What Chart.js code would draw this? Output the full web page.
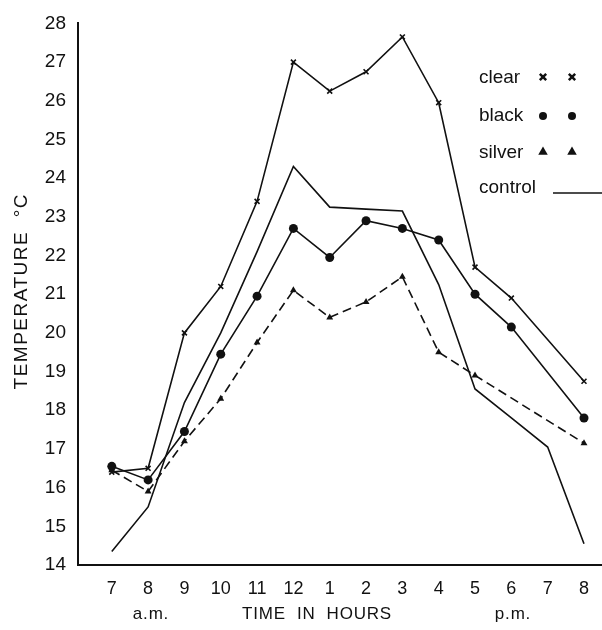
<!DOCTYPE html>
<html>
<head>
<meta charset="utf-8">
<style>
  html, body { margin: 0; padding: 0; background: #fff; }
  #wrap { width: 602px; height: 630px; position: relative; }
</style>
<script src="https://cdn.jsdelivr.net/npm/chart.js"></script>
</head>
<body>
<div id="wrap"><canvas id="tempChart" width="602" height="630"></canvas></div>
<script>
// hours of the day, 7 a.m. to 8 p.m.
const hourLabels = ["7", "8", "9", "10", "11", "12", "1", "2", "3", "4", "5", "6", "7", "8"];

// temperatures in °C (null = no reading plotted)
const clearTemps   = [16.4, 16.5, 20.0, 21.2, 23.4, 27.0, 26.25, 26.75, 27.65, 25.95, 21.7, 20.9, null, 18.75];
const blackTemps   = [16.55, 16.2, 17.45, 19.45, 20.95, 22.7, 21.95, 22.9, 22.7, 22.4, 21.0, 20.15, null, 17.8];
const silverTemps  = [16.45, 15.9, 17.2, 18.3, 19.75, 21.1, 20.4, 20.8, 21.45, 19.5, 18.9, null, null, 17.15];
const controlTemps = [14.35, 15.5, 18.2, 20.0, 22.1, 24.3, 23.25, 23.2, 23.15, 21.25, 18.55, 17.8, 17.05, 14.55];

const yTicks = { min: 14, max: 28, step: 1 };

const INK = "#111";
const FONT = "'Liberation Sans', Arial, sans-serif";

function toPoints(arr) {
  return arr.map((v, i) => ({ x: i, y: v }));
}

// legend, axis titles and captions, drawn on the canvas
const captions = {
  id: "captions",
  afterDraw(chart) {
    const ctx = chart.ctx;
    const area = chart.chartArea;
    ctx.save();
    ctx.fillStyle = INK;
    ctx.strokeStyle = INK;

    // y title
    ctx.save();
    ctx.font = "19px " + FONT;
    ctx.letterSpacing = "1.5px";
    ctx.textAlign = "center";
    ctx.textBaseline = "middle";
    ctx.translate(22, (area.top + area.bottom) / 2 - 3);
    ctx.rotate(-Math.PI / 2);
    ctx.fillText("TEMPERATURE  °C", 0, 0);
    ctx.restore();

    // x captions
    ctx.font = "17px " + FONT;
    ctx.letterSpacing = "0.8px";
    ctx.textBaseline = "alphabetic";
    ctx.textAlign = "center";
    ctx.fillText("a.m.", 151, 619);
    ctx.fillText("TIME  IN  HOURS", 317, 619);
    ctx.fillText("p.m.", 513, 619);

    // legend
    ctx.font = "19px " + FONT;
    ctx.letterSpacing = "0px";
    ctx.textAlign = "left";
    const rows = [
      { text: "clear", y: 83, style: "crossRot", r: 4.5, bw: 2.5, mid: 77 },
      { text: "black", y: 121, style: "circle", r: 4, bw: 0, mid: 116 },
      { text: "silver", y: 158, style: "triangle", r: 5.5, bw: 0, mid: 152 }
    ];
    rows.forEach(row => {
      ctx.fillText(row.text, 479, row.y);
      [543, 572].forEach(px => {
        ctx.lineWidth = row.bw;
        Chart.helpers.drawPoint(ctx, {
          pointStyle: row.style, radius: row.r, rotation: 0, borderWidth: row.bw
        }, px, row.mid);
      });
    });
    ctx.fillText("control", 479, 193);
    ctx.lineWidth = 1.5;
    ctx.beginPath();
    ctx.moveTo(553, 193);
    ctx.lineTo(602, 193);
    ctx.stroke();
    ctx.restore();
  }
};

const ctx = document.getElementById("tempChart").getContext("2d");
new Chart(ctx, {
  type: "line",
  data: {
    datasets: [
      {
        label: "clear",
        data: toPoints(clearTemps),
        borderColor: INK, backgroundColor: INK,
        borderWidth: 1.6,
        pointStyle: "crossRot", pointRadius: 3.5, pointBorderWidth: 1.6
      },
      {
        label: "black",
        data: toPoints(blackTemps),
        borderColor: INK, backgroundColor: INK,
        borderWidth: 1.6,
        pointStyle: "circle", pointRadius: 4.5, pointBorderWidth: 0
      },
      {
        label: "silver",
        data: toPoints(silverTemps),
        borderColor: INK, backgroundColor: INK,
        borderWidth: 1.6, borderDash: [9, 5],
        pointStyle: "triangle", pointRadius: 4, pointBorderWidth: 0
      },
      {
        label: "control",
        data: toPoints(controlTemps),
        borderColor: INK,
        borderWidth: 1.6,
        pointRadius: 0
      }
    ]
  },
  options: {
    responsive: false,
    animation: false,
    spanGaps: true,
    layout: { autoPadding: false, padding: { top: 22, right: 0, left: 0, bottom: 0 } },
    plugins: {
      legend: { display: false },
      tooltip: { enabled: false }
    },
    scales: {
      x: {
        type: "linear",
        min: -0.93,
        max: 13.47,
        grid: { display: false, drawTicks: false },
        border: { display: true, color: INK, width: 2 },
        afterBuildTicks: scale => {
          scale.ticks = hourLabels.map((_, i) => ({ value: i }));
        },
        afterFit: scale => { scale.height = 65; },
        ticks: {
          autoSkip: false,
          maxRotation: 0,
          padding: 13,
          color: INK,
          font: { family: FONT, size: 18 },
          callback: v => hourLabels[v]
        }
      },
      y: {
        min: yTicks.min,
        max: yTicks.max,
        grid: { display: false, drawTicks: false },
        border: { display: true, color: INK, width: 2 },
        afterFit: scale => { scale.width = 78; },
        ticks: {
          stepSize: yTicks.step,
          padding: 12,
          color: INK,
          font: { family: FONT, size: 19 }
        }
      }
    }
  },
  plugins: [captions]
});
</script>
</body>
</html>
